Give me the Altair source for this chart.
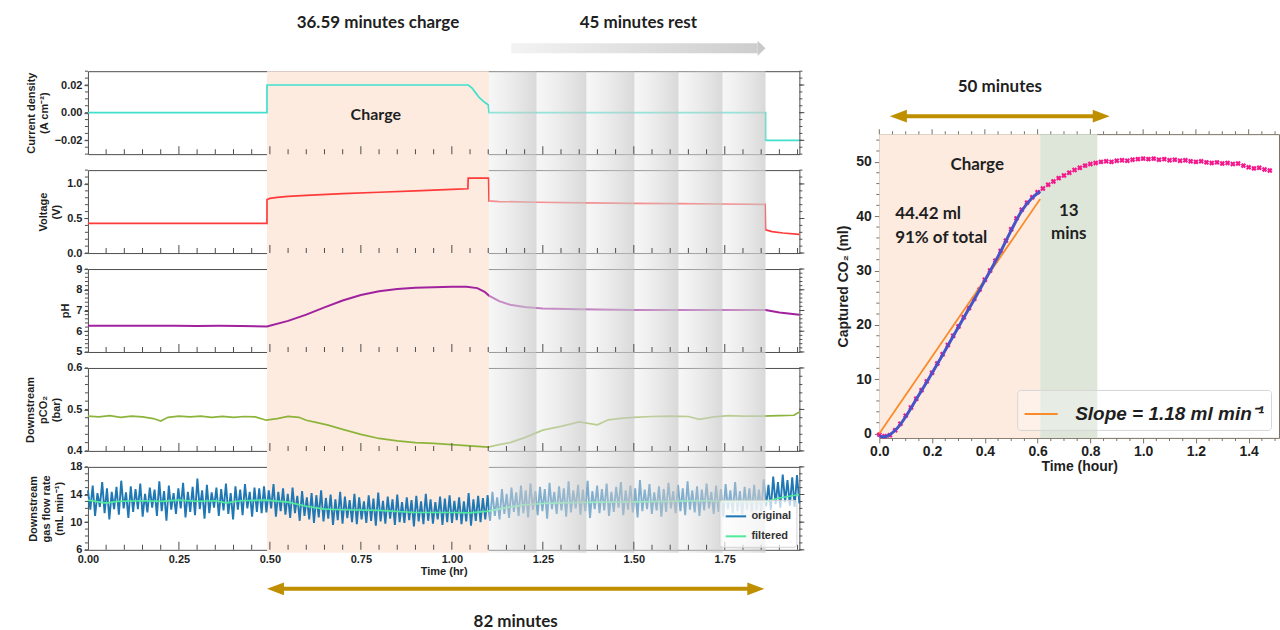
import altair as alt
import numpy as np
import pandas as pd

# ------------------------------------------------------------------ data
T_MAX = 1.955                      # h, end of the cycling record
CHARGE_START = 0.492               # h
CHARGE_MIN = 36.59                 # charge duration, min
REST_MIN = 45                      # rest duration, min
CYCLE_MIN = 82                     # charge + rest window, min
CHARGE_END = CHARGE_START + CHARGE_MIN / 60.0

# rest-period bands and the rest arrow (h)
rest_edges = [CHARGE_END, 1.233, 1.370, 1.502, 1.623, 1.744, 1.862]
rest_arrow = [1.163, 1.862]

cd_t = [0.0, 0.492, 0.4921, 1.045, 1.055, 1.065, 1.075, 1.09, 1.100, 1.1022, 1.862, 1.8621, 1.955]
cd_v = [0.0, 0.0, 0.020, 0.020, 0.018, 0.0145, 0.011, 0.0075, 0.0057, 0.0, 0.0, -0.020, -0.020]

volt_t = [0.0, 0.25, 0.492, 0.4921, 0.50, 0.52, 0.55, 0.60, 0.70, 0.80,
          0.90, 1.00, 1.044, 1.045, 1.101, 1.1022, 1.13, 1.233, 1.37, 1.50,
          1.62, 1.74, 1.861, 1.862, 1.88, 1.91, 1.955]
volt_v = [0.43, 0.43, 0.43, 0.775, 0.79, 0.805, 0.82, 0.835, 0.86, 0.88,
          0.90, 0.92, 0.93, 1.085, 1.085, 0.755, 0.745, 0.735, 0.725, 0.72,
          0.715, 0.71, 0.705, 0.335, 0.31, 0.29, 0.27]

ph_t = [0.0, 0.06, 0.12, 0.18, 0.24, 0.30, 0.36, 0.42, 0.492, 0.55,
        0.60, 0.65, 0.70, 0.75, 0.80, 0.85, 0.90, 0.95, 1.00, 1.04,
        1.07, 1.09, 1.102, 1.13, 1.16, 1.20, 1.25, 1.35, 1.50, 1.70,
        1.862, 1.90, 1.955]
ph_v = [6.27, 6.26, 6.27, 6.26, 6.27, 6.25, 6.26, 6.25, 6.23, 6.50,
        6.80, 7.15, 7.48, 7.75, 7.93, 8.04, 8.10, 8.12, 8.15, 8.15,
        8.08, 7.90, 7.72, 7.45, 7.28, 7.17, 7.10, 7.06, 7.03, 7.02,
        7.02, 6.90, 6.80]

pco2_t = [0.0, 0.03, 0.06, 0.09, 0.12, 0.15, 0.18, 0.20, 0.22, 0.25,
          0.28, 0.31, 0.34, 0.37, 0.40, 0.43, 0.46, 0.49, 0.52, 0.55,
          0.58, 0.60, 0.63, 0.66, 0.70, 0.75, 0.80, 0.85, 0.90, 0.95,
          1.00, 1.05, 1.10, 1.13, 1.16, 1.20, 1.25, 1.30, 1.35, 1.40,
          1.43, 1.47, 1.50, 1.55, 1.60, 1.65, 1.68, 1.72, 1.76, 1.80,
          1.85, 1.90, 1.94, 1.955]
pco2_v = [0.484, 0.482, 0.485, 0.481, 0.484, 0.482, 0.478, 0.472, 0.481, 0.484,
          0.482, 0.484, 0.481, 0.483, 0.481, 0.483, 0.482, 0.474, 0.478, 0.483,
          0.481, 0.474, 0.468, 0.462, 0.452, 0.440, 0.430, 0.424, 0.420, 0.418,
          0.415, 0.412, 0.409, 0.415, 0.420, 0.432, 0.450, 0.459, 0.470, 0.463,
          0.475, 0.479, 0.481, 0.483, 0.484, 0.483, 0.476, 0.482, 0.485, 0.484,
          0.484, 0.485, 0.486, 0.494]

# raw flow-meter trace: successive peaks and troughs
flow_hi = [14.6, 15.3, 14.2, 15.8, 14.9, 14.4, 15.1, 16.0, 14.3, 15.2,
           14.8, 15.6, 14.1, 15.0, 14.7, 15.9, 14.5, 15.3, 14.2, 14.9,
           15.7, 14.4, 15.1, 16.3, 14.6, 15.4, 14.3, 15.0, 14.8, 15.6,
           14.2, 15.2, 14.7, 15.5, 14.4, 15.0, 14.9,
           15.2, 14.6, 15.5, 14.4, 14.9, 14.1, 15.0, 13.8, 14.5, 13.6,
           14.2, 13.9, 14.6, 13.5, 14.0, 13.3, 14.4, 13.7, 13.2, 14.1,
           13.6, 13.0, 13.9, 13.4, 14.3, 13.1, 13.7, 13.3, 14.0, 12.9,
           13.6, 13.2, 13.8, 13.0, 14.1, 13.3, 12.9, 13.7, 13.4, 13.9,
           13.1, 13.6, 13.0, 14.2, 13.3, 13.8, 13.5,
           13.9, 14.4, 13.6, 14.8, 14.1, 15.0, 14.3, 15.3, 14.6, 15.6,
           14.5, 15.1, 14.8, 15.7, 14.4, 15.2, 14.9, 15.9, 14.6, 15.4,
           14.7, 16.0, 14.5, 15.3, 14.8, 15.6, 14.4, 15.1, 15.8, 14.6,
           15.3, 14.9, 16.1, 14.7, 15.5, 14.3, 15.2, 14.8, 15.7, 14.5,
           15.4, 14.9, 15.9, 14.6, 15.2, 14.7, 15.6, 14.4, 15.3, 14.8,
           15.5, 14.6, 15.8, 14.5, 15.1, 14.9, 15.4, 14.7,
           16.2, 15.4, 16.6, 15.8, 16.9, 16.1, 16.5, 16.8]
flow_lo = [11.8, 10.9, 12.2, 11.3, 10.4, 11.9, 11.1, 12.0, 10.6, 11.5,
           11.9, 10.8, 11.4, 12.1, 10.9, 11.6, 10.2, 11.8, 11.2, 12.0,
           10.7, 11.5, 11.0, 11.9, 10.5, 11.3, 12.1, 10.9, 11.7, 11.2,
           10.4, 11.8, 11.0, 12.0, 10.8, 11.5, 11.3,
           11.4, 12.0, 10.8, 11.6, 11.1, 10.6, 11.3, 10.2, 10.9, 10.4,
           9.9, 10.7, 10.1, 10.5, 9.6, 10.3, 9.8, 10.6, 10.0, 9.7,
           10.4, 9.9, 10.2, 9.5, 10.1, 9.8, 10.5, 9.6, 10.0, 9.9,
           10.3, 9.4, 10.1, 9.7, 10.2, 9.8, 10.4, 9.6, 10.0, 9.9,
           10.3, 9.7, 10.1, 9.5, 10.2, 10.0, 10.4,
           10.2, 10.9, 10.4, 11.2, 10.6, 11.5, 10.9, 11.3, 10.7, 11.8,
           11.0, 11.6, 10.5, 11.9, 11.2, 11.7, 10.8, 11.4, 12.0, 11.1,
           11.6, 10.6, 11.9, 11.3, 11.7, 10.9, 11.5, 12.1, 11.0, 11.8,
           11.4, 10.7, 11.6, 11.9, 11.2, 11.7, 10.8, 11.5, 12.0, 11.3,
           11.6, 11.0, 11.8, 11.4, 10.9, 11.7, 12.0, 11.2, 11.5, 10.8,
           11.9, 11.3, 11.6, 11.1, 11.8, 11.4, 11.7, 11.5,
           12.3, 11.8, 12.6, 12.1, 12.9, 12.4, 12.2, 12.7]

flowf_t = [0.0, 0.05, 0.08, 0.15, 0.2, 0.25, 0.3, 0.35, 0.38, 0.42,
           0.49, 0.55, 0.6, 0.65, 0.7, 0.8, 0.9, 1.0, 1.05, 1.1,
           1.15, 1.2, 1.25, 1.3, 1.4, 1.5, 1.6, 1.7, 1.75, 1.8,
           1.86, 1.9, 1.955]
flowf_v = [13.2, 12.75, 13.0, 13.1, 13.0, 13.2, 13.0, 13.1, 12.8, 13.1,
           13.2, 12.9, 12.3, 11.9, 11.8, 11.7, 11.4, 11.4, 11.35, 11.6,
           12.1, 12.5, 12.7, 12.8, 12.9, 12.95, 13.0, 13.1, 12.95, 13.0,
           12.95, 13.5, 14.0]

# captured CO2 (right chart)
R_CHARGE_MIN = 36.59
R_TAIL_MIN = 13
WINDOW_MIN = 50
WINDOW_START = 0.04
SLOPE = 1.18                       # ml/min
co2_t = [round(0.02 * k, 2) for k in range(75)]
co2_v = [-0.2, -0.5, -0.3, 0.6, 1.8, 3.3, 4.8, 6.4, 8.0, 9.6,
         11.2, 12.9, 14.6, 16.3, 18.0, 19.7, 21.4, 23.1, 24.8, 26.5,
         28.3, 30.0, 31.8, 33.6, 35.5, 37.6, 39.6, 41.2, 42.5, 43.5,
         44.4, 45.1, 45.8, 46.4, 47.0, 47.5, 48.0, 48.5, 48.9, 49.3,
         49.6, 49.8, 50.0, 50.1, 50.0, 50.2, 50.3, 50.2, 50.4, 50.5,
         50.6, 50.5, 50.6, 50.4, 50.5, 50.3, 50.4, 50.2, 50.3, 50.1,
         50.0, 50.1, 49.9, 49.8, 49.9, 49.7, 49.8, 49.6, 49.7, 49.3,
         49.0, 48.8, 48.9, 48.6, 48.4]
fit_t = [0.0, 0.02, 0.04, 0.06, 0.08, 0.10, 0.14, 0.18, 0.22, 0.26,
         0.30, 0.34, 0.38, 0.42, 0.46, 0.50, 0.54, 0.58, 0.61]
fit_v = [-0.5, -0.6, -0.2, 0.6, 1.7, 3.1, 6.3, 9.5, 12.8, 16.2,
         19.6, 23.0, 26.4, 29.9, 33.5, 37.4, 41.0, 43.4, 44.6]

# ------------------------------------------------------------------ style
FRAME = "#4d4d4d"
RFRAME = "#7a7263"
AX_FONT = "Liberation Sans"
NOTE_FONT = "Lato"
INK = "#1f1f1f"
PEACH = "#fdebe0"
SAGE = "#dde6d8"
GOLD = "#bf8f00"
LEFT_HEAD = "M -1 0 L 1 -0.75 L 1 0.75 Z"
RIGHT_HEAD = "M 1 0 L -1 -0.75 L -1 0.75 Z"
GREY_HEAD = "M -0.53 -1 L 0.53 0 L -0.53 1 Z"

STRIPE_FILL = {"gradient": "linear", "x1": 0, "x2": 1, "y1": 0, "y2": 0,
               "stops": [{"offset": 0, "color": "rgba(236,236,236,0.45)"},
                         {"offset": 1, "color": "rgba(206,206,206,0.78)"}]}
ARROW_FILL = {"gradient": "linear", "x1": 0, "x2": 1, "y1": 0, "y2": 0,
              "stops": [{"offset": 0, "color": "#f3f3f3"},
                        {"offset": 1, "color": "#cdcdcd"}]}

W_L, H_L, GAP_L = 712, 83, 16
W_R, H_R = 400, 304
TOP_R = 47                         # band above the right chart holding the window arrow
xs_left = alt.Scale(domain=[0, T_MAX], nice=False, zero=False)
xs_right = alt.Scale(domain=[0, 1.515], nice=False, zero=False)

x_major = [0.0, 0.25, 0.5, 0.75, 1.0, 1.25, 1.5, 1.75]
x_minor = [round(0.05 * k, 2) for k in range(1, 40) if k % 5 != 0]


def note(t, label, yexpr, X, size=17, align="center", weight="bold"):
    df = pd.DataFrame({"t": [t], "label": [label]})
    return alt.Chart(df).mark_text(font=NOTE_FONT, fontSize=size, fontWeight=weight,
                                   color=INK, align=align, baseline="middle").encode(
        x=X("t"), y=yexpr, text="label:N")


def gold_arrow(t0, t1, ypix, X):
    df = pd.DataFrame({"t0": [t0], "t1": [t1]})
    body = alt.Chart(df).mark_rule(color=GOLD, strokeWidth=4, xOffset=8, x2Offset=-8).encode(
        x=X("t0"), x2="t1", y=alt.value(ypix))
    lhead = alt.Chart(df).mark_point(shape=LEFT_HEAD, size=289, filled=True, opacity=1,
                                     color=GOLD, strokeWidth=0, xOffset=8.5).encode(
        x=X("t0"), y=alt.value(ypix))
    rhead = alt.Chart(df).mark_point(shape=RIGHT_HEAD, size=289, filled=True, opacity=1,
                                     color=GOLD, strokeWidth=0, xOffset=-8.5).encode(
        x=X("t1"), y=alt.value(ypix))
    return [body, lhead, rhead]


def left_panel(title, ydom, ymaj, ymin, fmt, middle, xaxis=None, extras=None,
               top_ext=8, bot_ext=8):
    ys = alt.Scale(domain=ydom, nice=False, zero=False)
    yax = alt.Axis(title=title, values=ymaj, format=fmt, grid=False, domain=False,
                   tickSize=4, tickColor=FRAME, labelFont=AX_FONT, labelFontSize=11,
                   labelFontWeight="bold", labelColor=INK, labelPadding=2,
                   titleFont=AX_FONT, titleFontSize=11, titleFontWeight="bold",
                   titleColor=INK, titlePadding=5, titleLineHeight=13)

    def X(f):
        return alt.X(f, type="quantitative", scale=xs_left, axis=xaxis)

    def Y(f):
        return alt.Y(f, type="quantitative", scale=ys, axis=yax)

    charge = alt.Chart(pd.DataFrame({"t0": [CHARGE_START], "t1": [CHARGE_END]})).mark_rect(
        color=PEACH).encode(x=X("t0"), x2="t1", y=alt.value(-top_ext), y2=alt.value(H_L + bot_ext))
    stripes = alt.Chart(pd.DataFrame({"t0": rest_edges[:-1], "t1": rest_edges[1:]})).mark_rect(
        fill=STRIPE_FILL, strokeWidth=0).encode(
        x=X("t0"), x2="t1", y=alt.value(-top_ext), y2=alt.value(H_L + bot_ext))
    tmin = alt.Chart(pd.DataFrame({"t": x_minor})).mark_tick(
        orient="vertical", size=5, thickness=1, color=FRAME, opacity=1).encode(
        x=X("t"), y=alt.value(H_L - 2.5))
    tmaj = alt.Chart(pd.DataFrame({"t": x_major[1:]})).mark_tick(
        orient="vertical", size=8, thickness=1, color=FRAME, opacity=1).encode(
        x=X("t"), y=alt.value(H_L - 4))
    ydf = pd.DataFrame({"v": ymin})
    yl = alt.Chart(ydf).mark_tick(orient="horizontal", size=3, thickness=1, color=FRAME,
                                  opacity=1).encode(y=Y("v"), x=alt.value(-1.5))
    yr = alt.Chart(ydf).mark_tick(orient="horizontal", size=3, thickness=1, color=FRAME,
                                  opacity=1).encode(y=Y("v"), x=alt.value(W_L + 1.5))
    yrm = alt.Chart(pd.DataFrame({"v": ymaj})).mark_tick(
        orient="horizontal", size=5, thickness=1, color=FRAME, opacity=1).encode(
        y=Y("v"), x=alt.value(W_L + 2.5))
    layers = [charge] + middle(X, Y) + [stripes, tmin, tmaj, yl, yr, yrm]
    if extras is not None:
        layers += extras(X, Y)
    return alt.layer(*layers).properties(width=W_L, height=H_L,
                                         view=alt.ViewBackground(stroke=FRAME))


def simple_line(t, v, color, width=1.7):
    def build(X, Y):
        df = pd.DataFrame({"t": t, "v": v})
        return [alt.Chart(df).mark_line(color=color, strokeWidth=width).encode(x=X("t"), y=Y("v"))]
    return build


# ---- panel 1: current density, with the top annotations
def p1_extras(X, Y):
    return [
        note((CHARGE_START + CHARGE_END) / 2, f"{CHARGE_MIN} minutes charge", alt.value(-48), X),
        note(sum(rest_arrow) / 2, f"{REST_MIN} minutes rest", alt.value(-48), X),
        alt.Chart(pd.DataFrame({"t0": [rest_arrow[0]], "t1": [rest_arrow[1]]})).mark_rect(
            fill=ARROW_FILL, strokeWidth=0, x2Offset=-8).encode(
            x=X("t0"), x2="t1", y=alt.value(-28), y2=alt.value(-18)),
        alt.Chart(pd.DataFrame({"t": [rest_arrow[1]]})).mark_point(
            shape=GREY_HEAD, size=225, filled=True, opacity=1, color="#c9c9c9",
            strokeWidth=0, xOffset=-4).encode(x=X("t"), y=alt.value(-23)),
        alt.Chart(pd.DataFrame({"t": [0.791], "v": [-0.0015], "label": ["Charge"]})).mark_text(
            font=NOTE_FONT, fontSize=16, fontWeight="bold", color=INK, baseline="middle").encode(
            x=X("t"), y=Y("v"), text="label:N"),
    ]


p1 = left_panel(["Current density", "(A cm⁻²)"], [-0.03, 0.03], [-0.02, 0.0, 0.02],
                [round(-0.03 + 0.005 * k, 3) for k in range(13)], ".2f",
                simple_line(cd_t, cd_v, "#40e0cc"), extras=p1_extras, top_ext=0)
p2 = left_panel(["Voltage", "(V)"], [0, 1.2], [0.0, 0.5, 1.0],
                [round(0.1 * k, 1) for k in range(13)], ".1f",
                simple_line(volt_t, volt_v, "#ff3a3a"))
p3 = left_panel("pH", [5, 9], [5, 6, 7, 8, 9], [round(5 + 0.2 * k, 1) for k in range(21)], "d",
                simple_line(ph_t, ph_v, "#a0229f", 2))
p4 = left_panel(["Downstream", "pCO₂", "(bar)"], [0.4, 0.6], [0.4, 0.5, 0.6],
                [round(0.4 + 0.02 * k, 2) for k in range(11)], ".1f",
                simple_line(pco2_t, pco2_v, "#8db43a"))

# ---- panel 5: gas flow rate with legend, x labels and the cycle arrow
flow_raw = np.column_stack([flow_hi, flow_lo]).ravel()
flow_raw_t = np.linspace(0, T_MAX, len(flow_raw))
XAX5 = alt.Axis(values=x_major, format=".2f", title="Time (hr)", grid=False, domain=False,
                ticks=False, labelFont=AX_FONT, labelFontSize=11, labelFontWeight="bold",
                labelColor=INK, labelPadding=4, labelFlush=False, titleFont=AX_FONT,
                titleFontSize=11, titleFontWeight="bold", titleColor=INK, titlePadding=1)
flow_color = alt.Scale(domain=["original", "filtered"], range=["#1f77b4", "#4fea9c"])
flow_legend = alt.Legend(title=None, orient="bottom-right", offset=3, symbolType="stroke",
                         symbolStrokeWidth=2, symbolSize=420, labelFont=AX_FONT,
                         labelFontSize=11, labelFontWeight="bold", labelColor="#333",
                         fillColor="rgba(255,255,255,0.7)", strokeColor="#d4d4d4",
                         padding=5, cornerRadius=3, rowPadding=3)


def flow_layers(X, Y):
    raw = pd.DataFrame({"t": flow_raw_t, "v": flow_raw, "s": "original"})
    filt = pd.DataFrame({"t": flowf_t, "v": flowf_v, "s": "filtered"})
    c = alt.Color("s:N", scale=flow_color, legend=flow_legend)
    return [alt.Chart(raw).mark_line(strokeWidth=1.9, strokeJoin="bevel").encode(
                x=X("t"), y=Y("v"), color=c),
            alt.Chart(filt).mark_line(strokeWidth=1.7).encode(x=X("t"), y=Y("v"), color=c)]


cycle_end = CHARGE_START + CYCLE_MIN / 60.0


def p5_extras(X, Y):
    return gold_arrow(CHARGE_START, cycle_end, H_L + 39, X) + [
        note((CHARGE_START + cycle_end) / 2, f"{CYCLE_MIN} minutes", alt.value(H_L + 72), X)]


p5 = left_panel(["Downstream", "gas flow rate", "(mL min⁻¹)"], [6, 18], [6, 10, 14, 18],
                list(range(6, 19)), "d", flow_layers, xaxis=XAX5, extras=p5_extras,
                bot_ext=3)

left_col = alt.vconcat(p1, p2, p3, p4, p5, spacing=GAP_L, bounds="flush").resolve_scale(
    x="independent", y="independent", color="independent").resolve_legend(color="independent")

# ------------------------------------------------------------------ right chart
R_CHARGE = R_CHARGE_MIN / 60.0
R_TAIL = R_CHARGE + R_TAIL_MIN / 60.0
ys_right = alt.Scale(domain=[-0.8, 55.1], nice=False, zero=False)
XR = alt.Axis(values=[0.0, 0.2, 0.4, 0.6, 0.8, 1.0, 1.2, 1.4], format=".1f", title="Time (hour)",
              grid=False, domain=False, tickSize=5, tickColor=RFRAME, labelFont=AX_FONT,
              labelFontSize=14, labelFontWeight="bold", labelColor=INK, labelPadding=2,
              labelFlush=False, titleFont=AX_FONT, titleFontSize=14, titleFontWeight="bold",
              titleColor=INK, titlePadding=1)
YR = alt.Axis(values=[0, 10, 20, 30, 40, 50], format="d", title="Captured CO₂ (ml)", grid=False,
              domain=False, tickSize=5, tickColor=RFRAME, labelFont=AX_FONT, labelFontSize=14,
              labelFontWeight="bold", labelColor=INK, labelPadding=3, titleFont=AX_FONT,
              titleFontSize=14, titleFontWeight="bold", titleColor=INK, titlePadding=5)


def XRf(f):
    return alt.X(f, type="quantitative", scale=xs_right, axis=XR)


def YRf(f):
    return alt.Y(f, type="quantitative", scale=ys_right, axis=YR)


def XTop(f):
    return alt.X(f, type="quantitative", scale=xs_right, axis=None)


slope_label = f"Slope = {SLOPE:.2f} ml min⁻¹"
slope_t = [0.0, R_CHARGE]
slope_v = [SLOPE * 60 * t for t in slope_t]

r_shade = [
    alt.Chart(pd.DataFrame({"t0": [0.0], "t1": [R_CHARGE]})).mark_rect(color=PEACH).encode(
        x=XRf("t0"), x2="t1", y=alt.value(0), y2=alt.value(H_R)),
    alt.Chart(pd.DataFrame({"t0": [R_CHARGE], "t1": [R_TAIL]})).mark_rect(color=SAGE).encode(
        x=XRf("t0"), x2="t1", y=alt.value(0), y2=alt.value(H_R)),
]
r_points = alt.Chart(pd.DataFrame({"t": co2_t, "v": co2_v})).mark_point(
    shape="cross", angle=45, size=30, filled=True, opacity=1, color="#f5178c",
    strokeWidth=0).encode(x=XRf("t"), y=YRf("v"))
r_slope = alt.Chart(pd.DataFrame({"t": slope_t, "v": slope_v, "s": slope_label})).mark_line(
    strokeWidth=1.8).encode(
    x=XRf("t"), y=YRf("v"),
    color=alt.Color("s:N", scale=alt.Scale(domain=[slope_label], range=["#f98b2a"]),
                    legend=alt.Legend(title=None, orient="bottom-right", offset=8,
                                      symbolType="stroke", symbolStrokeWidth=2, symbolSize=1100,
                                      labelFont=AX_FONT, labelFontSize=19, labelFontStyle="italic",
                                      labelFontWeight="bold", labelColor=INK, labelLimit=400,
                                      labelOffset=16, fillColor="rgba(255,255,255,0.3)",
                                      strokeColor="#d6d6d6", padding=6, cornerRadius=3)))
r_fit = alt.Chart(pd.DataFrame({"t": fit_t, "v": fit_v})).mark_line(
    color="#4654c8", strokeWidth=3, interpolate="monotone").encode(x=XRf("t"), y=YRf("v"))

r_text_df = pd.DataFrame({
    "t": [0.371, 0.06, 0.06, (R_CHARGE + R_TAIL) / 2, (R_CHARGE + R_TAIL) / 2],
    "v": [49.4, 40.4, 36.0, 40.9, 36.7],
    "label": ["Charge", "44.42 ml", "91% of total", str(R_TAIL_MIN), "mins"],
    "a": ["center", "left", "left", "center", "center"],
})
r_texts = [
    alt.Chart(r_text_df[r_text_df.a == a]).mark_text(
        font=NOTE_FONT, fontSize=17, fontWeight="bold", color=INK, align=a,
        baseline="middle").encode(x=XRf("t"), y=YRf("v"), text="label:N")
    for a in ["center", "left"]
]

rx_minor = [round(0.05 * k, 2) for k in range(1, 31) if k % 4 != 0]
rx_major = [round(0.2 * k, 1) for k in range(8)]
ry_minor = [v for v in range(0, 56, 2) if v % 10 != 0]
r_ticks = [
    alt.Chart(pd.DataFrame({"t": rx_minor})).mark_tick(
        orient="vertical", size=3, thickness=1, color=RFRAME, opacity=1).encode(
        x=XRf("t"), y=alt.value(H_R + 1.5)),
    alt.Chart(pd.DataFrame({"t": rx_minor})).mark_tick(
        orient="vertical", size=3, thickness=1, color=RFRAME, opacity=1).encode(
        x=XRf("t"), y=alt.value(-1.5)),
    alt.Chart(pd.DataFrame({"t": rx_major})).mark_tick(
        orient="vertical", size=5, thickness=1, color=RFRAME, opacity=1).encode(
        x=XRf("t"), y=alt.value(-2.5)),
    alt.Chart(pd.DataFrame({"v": ry_minor})).mark_tick(
        orient="horizontal", size=3, thickness=1, color=RFRAME, opacity=1).encode(
        y=YRf("v"), x=alt.value(-1.5)),
]

r_plot = alt.layer(*r_shade, r_points, r_slope, r_fit, *r_texts, *r_ticks).properties(
    width=W_R, height=H_R, view=alt.ViewBackground(stroke=RFRAME))

window_end = WINDOW_START + WINDOW_MIN / 60.0
r_top = alt.layer(
    *gold_arrow(WINDOW_START, window_end, 45, XTop),
    note((WINDOW_START + window_end) / 2, f"{WINDOW_MIN} minutes", alt.value(16), XTop),
).properties(width=W_R, height=TOP_R, view=alt.ViewBackground(stroke="transparent"))

right_col = alt.vconcat(r_top, r_plot, spacing=16, bounds="flush").resolve_scale(
    x="independent", y="independent", color="independent").resolve_legend(color="independent")

chart = alt.hconcat(left_col, right_col, spacing=30).resolve_scale(
    x="independent", y="independent", color="independent").resolve_legend(
    color="independent").properties(
    padding={"left": 24, "top": 13, "right": 0, "bottom": 0},
    background="white",
    autosize=alt.AutoSizeParams(type="pad"),
).configure_view(strokeWidth=1)

chart.save("out.html", embed_options={"renderer": "svg", "actions": False})
